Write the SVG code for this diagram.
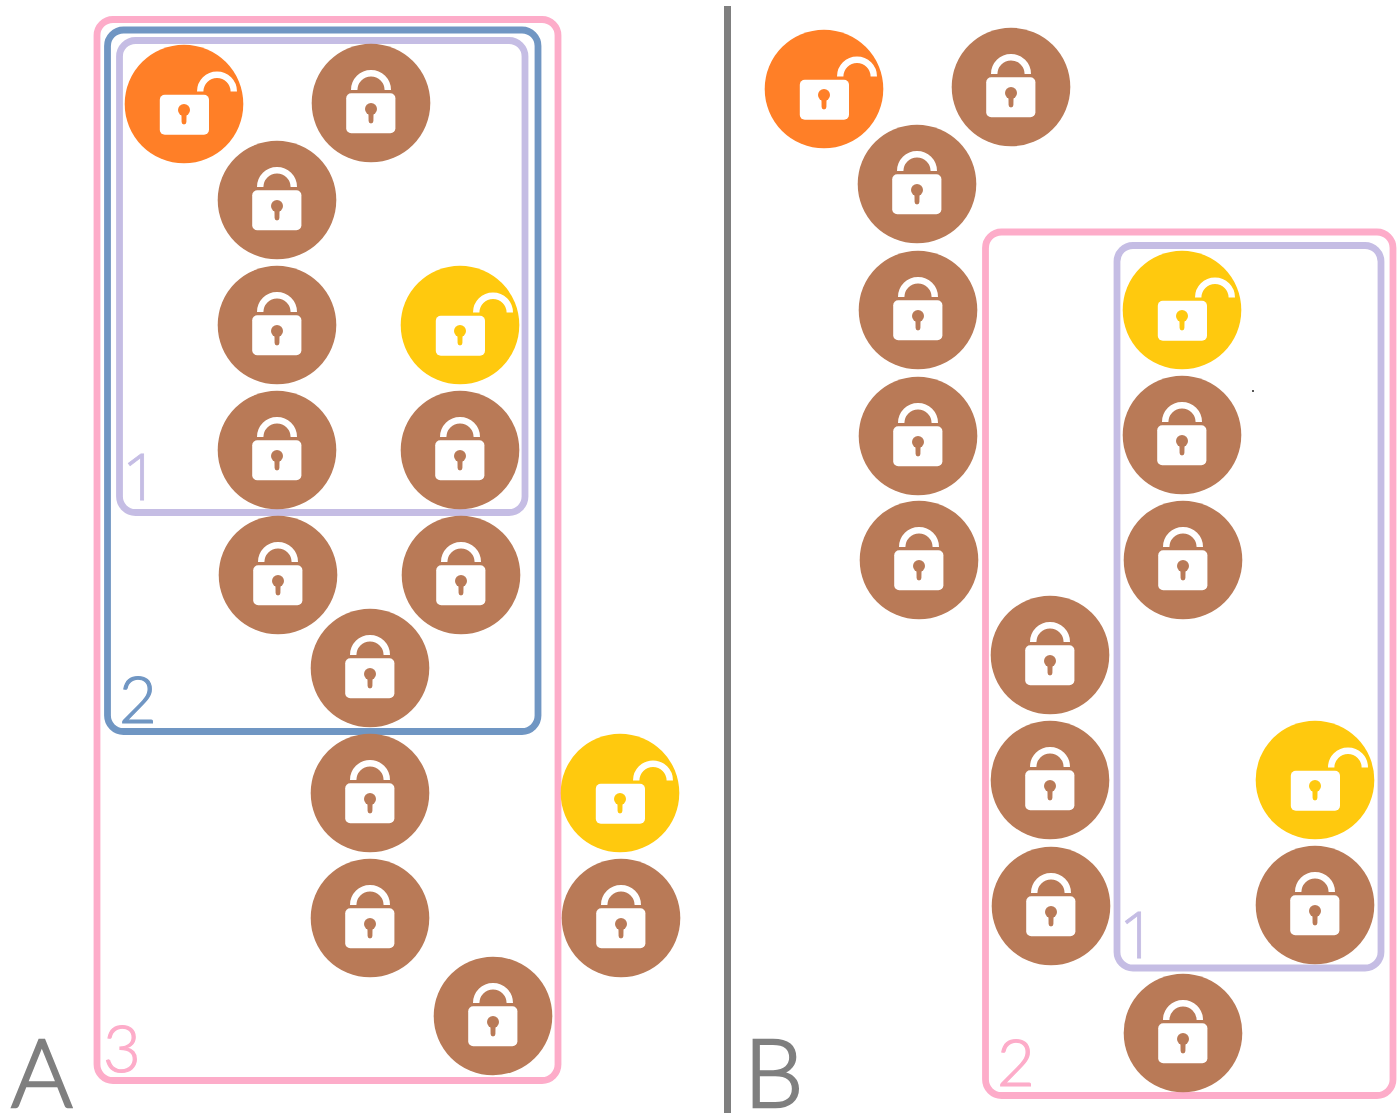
<svg xmlns="http://www.w3.org/2000/svg" width="1400" height="1113" viewBox="0 0 1400 1113">
<style>
.frame{fill:none;stroke-width:6.8}
.pink{stroke:#fdacc9}.blue{stroke:#7096c3}.lav{stroke:#c5bde4}
.t{font-family:"Lato","Liberation Sans",sans-serif;font-weight:300}
.big{font-size:94px;fill:#7f7f7f;stroke:#7f7f7f;stroke-width:2.4}
.num{font-size:65px;stroke-width:1.2}
.one{font-family:"Open Sans","Liberation Sans",sans-serif;font-weight:300;font-size:65px;fill:#c5bde4;stroke:#c5bde4;stroke-width:.8}
.shackle{fill:none;stroke:#fff;stroke-width:6.4}
.brown{fill:#b97a57}.orange{fill:#ff7f27}.yellow{fill:#ffc90e}
</style>
<defs>
<g id="closed">
<circle r="59.3" class="brown"/>
<path class="shackle" d="M-16.8-13A16.8 16.8 0 0 1 16.8-13"/>
<rect x="-24.8" y="-9.7" width="49.2" height="40" rx="5" fill="#fff"/>
<circle cy="6" r="6" class="brown"/>
<path d="M-2.6 6H2.6L2.4 18A2.4 2.4 0 0 1-2.4 18Z" class="brown"/>
</g>
<g id="openO">
<circle r="59.3" class="orange"/>
<path class="shackle" d="M16.2-12.5A16.8 16.8 0 0 1 49.8-12.5"/>
<rect x="-24.2" y="-9.3" width="49.2" height="40" rx="5" fill="#fff"/>
<circle cy="6" r="6" class="orange"/>
<path d="M-2.6 6H2.6L2.4 18A2.4 2.4 0 0 1-2.4 18Z" class="orange"/>
</g>
<g id="openY">
<circle r="59.3" class="yellow"/>
<path class="shackle" d="M16.2-12.5A16.8 16.8 0 0 1 49.8-12.5"/>
<rect x="-24.2" y="-9.3" width="49.2" height="40" rx="5" fill="#fff"/>
<circle cy="6" r="6" class="yellow"/>
<path d="M-2.6 6H2.6L2.4 18A2.4 2.4 0 0 1-2.4 18Z" class="yellow"/>
</g>
</defs>
<rect width="1400" height="1113" fill="#fff"/>
<rect x="724" y="6" width="7" height="1107" fill="#7f7f7f"/>
<g id="frames">
<rect id="a-frame-3" class="frame pink" x="97" y="19.5" width="461" height="1061" rx="16"/>
<rect id="a-frame-2" class="frame blue" x="107.5" y="30" width="430.5" height="701.5" rx="16"/>
<rect id="a-frame-1" class="frame lav" x="119.5" y="40.5" width="405.5" height="472" rx="16"/>
<rect id="b-frame-2" class="frame pink" x="985.5" y="232" width="407.5" height="863.5" rx="16"/>
<rect id="b-frame-1" class="frame lav" x="1117" y="245.5" width="264" height="722.5" rx="16"/>
</g>
<g id="labels">
<text class="t big" x="11" y="1107">A</text>
<text class="t big" x="744" y="1107">B</text>
<text class="t num" x="103" y="1072" fill="#fdacc9" stroke="#fdacc9">3</text>
<text class="t num" x="119" y="723" fill="#7096c3" stroke="#7096c3">2</text>
<text class="one" x="122" y="500">1</text>
<text class="t num" x="997" y="1086" fill="#fdacc9" stroke="#fdacc9">2</text>
<text class="one" x="1119" y="958">1</text>
</g>
<g id="nodes-a">
<g id="a1"><use href="#openO" x="184" y="104"/></g>
<g id="a2"><use href="#closed" x="371" y="103"/></g>
<g id="a3"><use href="#closed" x="277" y="200"/></g>
<g id="a4"><use href="#closed" x="277" y="325"/></g>
<g id="a5"><use href="#openY" x="460" y="325"/></g>
<g id="a6"><use href="#closed" x="277" y="450"/></g>
<g id="a7"><use href="#closed" x="460" y="450"/></g>
<g id="a8"><use href="#closed" x="278" y="575"/></g>
<g id="a9"><use href="#closed" x="461" y="575"/></g>
<g id="a10"><use href="#closed" x="370" y="668"/></g>
<g id="a11"><use href="#closed" x="370" y="793"/></g>
<g id="a12"><use href="#openY" x="620" y="793"/></g>
<g id="a13"><use href="#closed" x="370" y="918"/></g>
<g id="a14"><use href="#closed" x="621" y="918"/></g>
<g id="a15"><use href="#closed" x="493" y="1016"/></g>
</g>
<g id="nodes-b">
<g id="b1"><use href="#openO" x="824" y="89"/></g>
<g id="b2"><use href="#closed" x="1011" y="87"/></g>
<g id="b3"><use href="#closed" x="917" y="184"/></g>
<g id="b4"><use href="#closed" x="918" y="310"/></g>
<g id="b5"><use href="#closed" x="918" y="436"/></g>
<g id="b6"><use href="#closed" x="919" y="560"/></g>
<g id="b7"><use href="#openY" x="1182" y="310"/></g>
<g id="b8"><use href="#closed" x="1182" y="435"/></g>
<g id="b9"><use href="#closed" x="1183" y="560"/></g>
<g id="b10"><use href="#closed" x="1050" y="655"/></g>
<g id="b11"><use href="#closed" x="1050" y="780"/></g>
<g id="b12"><use href="#closed" x="1051" y="906"/></g>
<g id="b13"><use href="#openY" x="1315" y="780"/></g>
<g id="b14"><use href="#closed" x="1315" y="905"/></g>
<g id="b15"><use href="#closed" x="1183" y="1033"/></g>
</g>
<circle cx="1253" cy="391" r="1" fill="#222"/>
</svg>
